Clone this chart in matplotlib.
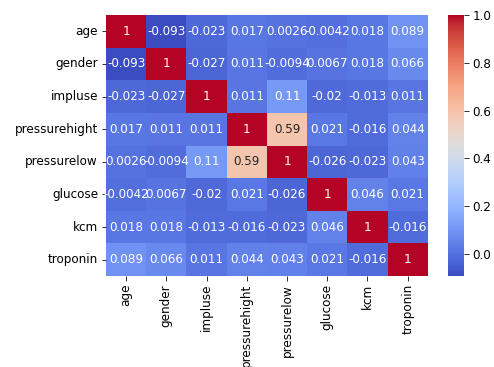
import numpy as np
import pandas as pd
import matplotlib
matplotlib.use("Agg")
import matplotlib.pyplot as plt
import seaborn as sns

# column names as they appear in the chart
cols = ["age", "gender", "impluse", "pressurehight", "pressurelow", "glucose", "kcm", "troponin"]

# correlation rows
age = [1, -0.093, -0.023, 0.017, 0.0026, -0.0042, 0.018, 0.089]
gender = [-0.093, 1, -0.027, 0.011, -0.0094, 0.0067, 0.018, 0.066]
impluse = [-0.023, -0.027, 1, 0.011, 0.11, -0.02, -0.013, 0.011]
pressurehight = [0.017, 0.011, 0.011, 1, 0.59, 0.021, -0.016, 0.044]
pressurelow = [0.0026, -0.0094, 0.11, 0.59, 1, -0.026, -0.023, 0.043]
glucose = [-0.0042, 0.0067, -0.02, 0.021, -0.026, 1, 0.046, 0.021]
kcm = [0.018, 0.018, -0.013, -0.016, -0.023, 0.046, 1, -0.016]
troponin = [0.089, 0.066, 0.011, 0.044, 0.043, 0.021, -0.016, 1]

corr = pd.DataFrame([age, gender, impluse, pressurehight, pressurelow, glucose, kcm, troponin],
                    index=cols, columns=cols)

# notebook figure blown up a bit, so fonts/ticks slightly bigger than default
plt.rcParams["font.size"] = 12
plt.rcParams["xtick.major.size"] = 4.5
plt.rcParams["ytick.major.size"] = 4.5

fig = plt.figure(figsize=(494 / 72, 367 / 72), dpi=72)
ax = fig.add_axes([0.2146, 0.248, 0.6514, 0.711])
cax = fig.add_axes([0.907, 0.248, 0.033, 0.711])

sns.heatmap(corr, annot=True, cmap="coolwarm", ax=ax, cbar_ax=cax,
            annot_kws={"fontsize": 12})
ax.tick_params(labelsize=12)
cax.tick_params(labelsize=12)

fig.savefig("out.png", dpi=72)
